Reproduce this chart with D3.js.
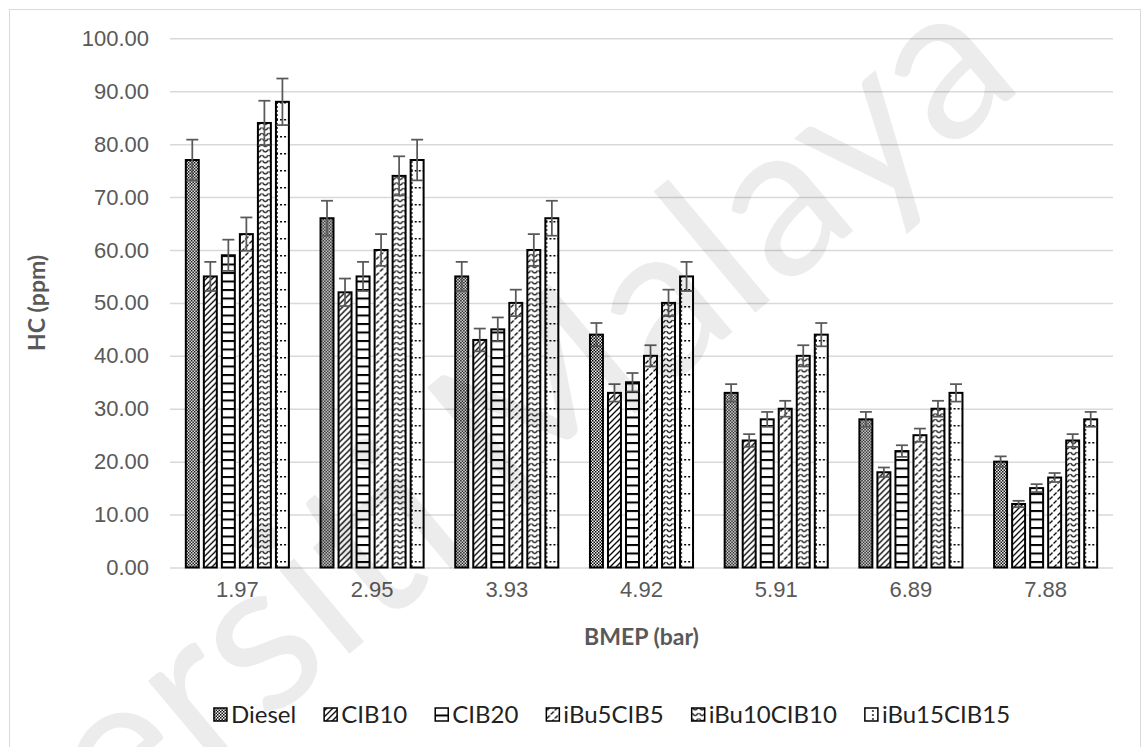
<!DOCTYPE html>
<html>
<head>
<meta charset="utf-8">
<script src="https://cdn.jsdelivr.net/npm/d3@7"></script>
<style>
  body { margin: 0; background: #fff; }
  svg { display: block; font-family: Lato, "Open Sans", sans-serif; }
</style>
</head>
<body>
<div id="chart"></div>
<script>
// BMEP loads on the x axis
const categories = ["1.97", "2.95", "3.93", "4.92", "5.91", "6.89", "7.88"];
const seriesNames = ["Diesel", "CIB10", "CIB20", "iBu5CIB5", "iBu10CIB10", "iBu15CIB15"];

// HC (ppm)
const diesel = [77, 66, 55, 44, 33, 28, 20];
const cib10 = [55, 52, 43, 33, 24, 18, 12];
const cib20 = [59, 55, 45, 35, 28, 22, 15];
const ibu5cib5 = [63, 60, 50, 40, 30, 25, 17];
const ibu10cib10 = [84, 74, 60, 50, 40, 30, 24];
const ibu15cib15 = [88, 77, 66, 55, 44, 33, 28];

// error bar half lengths
const dieselErr = [3.85, 3.3, 2.75, 2.2, 1.65, 1.4, 1.0];
const cib10Err = [2.75, 2.6, 2.15, 1.65, 1.2, 0.9, 0.6];
const cib20Err = [2.95, 2.75, 2.25, 1.75, 1.4, 1.1, 0.75];
const ibu5cib5Err = [3.15, 3.0, 2.5, 2.0, 1.5, 1.25, 0.85];
const ibu10cib10Err = [4.2, 3.7, 3.0, 2.5, 2.0, 1.5, 1.2];
const ibu15cib15Err = [4.4, 3.85, 3.3, 2.75, 2.2, 1.65, 1.4];

const yTicks = [0, 10, 20, 30, 40, 50, 60, 70, 80, 90, 100];

const seriesValues = [diesel, cib10, cib20, ibu5cib5, ibu10cib10, ibu15cib15];
const seriesErrors = [dieselErr, cib10Err, cib20Err, ibu5cib5Err, ibu10cib10Err, ibu15cib15Err];

const width = 1143, height = 747;
const plot = { left: 170, right: 1113, top: 38.3, bottom: 567.5 };

const svg = d3.select("#chart").append("svg")
    .attr("width", width)
    .attr("height", height);

// ---- fill patterns (black & white Excel style) ----
const defs = svg.append("defs");
const patternIds = ["pDiesel", "pCib10", "pCib20", "pIbu5", "pIbu10", "pIbu15"];

function newPattern(id, w, h, x) {
    const p = defs.append("pattern")
        .attr("id", id)
        .attr("patternUnits", "userSpaceOnUse")
        .attr("width", w).attr("height", h)
        .attr("x", x || 0).attr("y", 0);
    p.append("rect").attr("width", w).attr("height", h).attr("fill", "#fff");
    return p;
}

// checker
let p = newPattern("pDiesel", 3, 3);
p.append("rect").attr("x", 0).attr("y", 0).attr("width", 1.5).attr("height", 1.5).attr("fill", "#000");
p.append("rect").attr("x", 1.5).attr("y", 1.5).attr("width", 1.5).attr("height", 1.5).attr("fill", "#000");

// upward diagonal
p = newPattern("pCib10", 6, 6);
p.append("path").attr("d", "M-1,7 L7,-1 M-1,1 L1,-1 M5,7 L7,5")
    .attr("stroke", "#000").attr("stroke-width", 1.3);

// wide horizontal
p = newPattern("pCib20", 8.5, 8.5);
p.append("rect").attr("x", 0).attr("y", 0).attr("width", 8.5).attr("height", 2).attr("fill", "#000");

// dashed upward diagonal
p = newPattern("pIbu5", 8, 8);
p.append("path").attr("d", "M0.5,3.5 L3.5,0.5 M4.5,7.5 L7.5,4.5")
    .attr("stroke", "#000").attr("stroke-width", 1.3);

// wave
p = newPattern("pIbu10", 7, 5.5);
p.append("path").attr("d", "M0.5,1 Q3.5,6 6.5,1")
    .attr("fill", "none").attr("stroke", "#000").attr("stroke-width", 1.2);

// dotted grid
p = newPattern("pIbu15", 134.7 / 8, 17, 0);
p.append("path").attr("d", "M0,0.75 H16.8")
    .attr("stroke", "#000").attr("stroke-width", 1.3).attr("stroke-dasharray", "2,2");
p.append("path").attr("d", "M1,0 V17")
    .attr("stroke", "#000").attr("stroke-width", 1.3).attr("stroke-dasharray", "2,2");

// ---- outer chart border ----
svg.append("rect")
    .attr("x", 9.5).attr("y", 9.5)
    .attr("width", 1131).attr("height", 745)
    .attr("fill", "none").attr("stroke", "#d9d9d9").attr("stroke-width", 1);

// ---- scales ----
const x0 = d3.scaleBand()
    .domain(categories)
    .range([plot.left, plot.right])
    .paddingInner(0.22)
    .paddingOuter(0.11);

const x1 = d3.scaleBand()
    .domain(seriesNames)
    .range([0, x0.bandwidth()])
    .paddingInner(0.17)
    .paddingOuter(0);

const y = d3.scaleLinear()
    .domain([0, 100])
    .range([plot.bottom, plot.top]);

// align dotted grid pattern with the last series bars
defs.select("#pIbu15").attr("x", x0(categories[0]) + x1("iBu15CIB15") + 1.5);

// ---- gridlines + y axis ----
const yAxis = svg.append("g")
    .attr("transform", `translate(${plot.left},0)`)
    .call(d3.axisLeft(y)
        .tickValues(yTicks)
        .tickFormat(d3.format(".2f"))
        .tickSize(-(plot.right - plot.left))
        .tickPadding(21));
yAxis.select(".domain").remove();
yAxis.selectAll(".tick line").attr("stroke", "#d9d9d9").attr("stroke-width", 1.5);
yAxis.selectAll(".tick text")
    .attr("fill", "#595959")
    .style("font-size", "22px");

// ---- x axis ----
const xAxis = svg.append("g")
    .attr("transform", `translate(0,${plot.bottom})`)
    .call(d3.axisBottom(x0).tickSize(0).tickPadding(14));
xAxis.select(".domain").remove();
xAxis.selectAll(".tick text")
    .attr("fill", "#595959")
    .style("font-size", "22px");

// ---- bars ----
const groups = svg.append("g").selectAll("g")
    .data(categories)
    .join("g")
    .attr("transform", d => `translate(${x0(d)},0)`);

groups.selectAll("rect")
    .data((c, i) => seriesNames.map((s, j) => ({ s, j, v: seriesValues[j][i] })))
    .join("rect")
    .attr("x", d => x1(d.s) + 1)
    .attr("y", d => y(d.v))
    .attr("width", x1.bandwidth() - 2)
    .attr("height", d => y(0) - y(d.v))
    .attr("fill", d => `url(#${patternIds[d.j]})`)
    .attr("stroke", "#000")
    .attr("stroke-width", 2);

// ---- error bars ----
const errs = groups.selectAll("g.err")
    .data((c, i) => seriesNames.map((s, j) => ({ s, v: seriesValues[j][i], e: seriesErrors[j][i] })))
    .join("g")
    .attr("class", "err")
    .attr("stroke", "#595959")
    .attr("stroke-width", 1.75);

errs.append("line")
    .attr("x1", d => x1(d.s) + x1.bandwidth() / 2)
    .attr("x2", d => x1(d.s) + x1.bandwidth() / 2)
    .attr("y1", d => y(d.v - d.e))
    .attr("y2", d => y(d.v + d.e));
errs.append("line")
    .attr("x1", d => x1(d.s) + x1.bandwidth() / 2 - 6)
    .attr("x2", d => x1(d.s) + x1.bandwidth() / 2 + 6)
    .attr("y1", d => y(d.v + d.e))
    .attr("y2", d => y(d.v + d.e));
errs.append("line")
    .attr("x1", d => x1(d.s) + x1.bandwidth() / 2 - 6)
    .attr("x2", d => x1(d.s) + x1.bandwidth() / 2 + 6)
    .attr("y1", d => y(d.v - d.e))
    .attr("y2", d => y(d.v - d.e));

// ---- axis titles ----
svg.append("text")
    .attr("x", (plot.left + plot.right) / 2)
    .attr("y", 645)
    .attr("text-anchor", "middle")
    .attr("fill", "#595959")
    .style("font-size", "23px")
    .style("font-weight", "bold")
    .text("BMEP (bar)");

svg.append("text")
    .attr("transform", `translate(45,${(plot.top + plot.bottom) / 2}) rotate(-90)`)
    .attr("text-anchor", "middle")
    .attr("fill", "#595959")
    .style("font-size", "23px")
    .style("font-weight", "bold")
    .text("HC (ppm)");

// ---- legend ----
const legend = svg.append("g");
const items = legend.selectAll("g")
    .data(seriesNames)
    .join("g");
items.append("rect")
    .attr("x", 0).attr("y", -15)
    .attr("width", 13).attr("height", 13)
    .attr("fill", (d, i) => `url(#${patternIds[i]})`)
    .attr("stroke", "#000")
    .attr("stroke-width", 1.5);
items.append("text")
    .attr("x", 17)
    .attr("y", 0)
    .attr("fill", "#222")
    .style("font-size", "24px")
    .text(d => d);

let offset = 0;
items.each(function () {
    const w = 17 + d3.select(this).select("text").node().getComputedTextLength();
    d3.select(this).attr("data-x", offset);
    offset += w + 28;
});
const total = offset - 28;
const startX = 612 - total / 2;
items.attr("transform", function () {
    return `translate(${startX + (+d3.select(this).attr("data-x"))},723)`;
});

// ---- watermark ----
const wm = svg.append("g")
    .attr("fill", "#000")
    .attr("fill-opacity", 0.075)
    .style("font-size", "215px")
    .style("pointer-events", "none");
wm.append("text")
    .attr("transform", "translate(511,518) rotate(-40)")
    .text("Malaya");
wm.append("text")
    .attr("transform", "translate(478,546) rotate(-40)")
    .attr("text-anchor", "end")
    .text("Universiti");
</script>
</body>
</html>
